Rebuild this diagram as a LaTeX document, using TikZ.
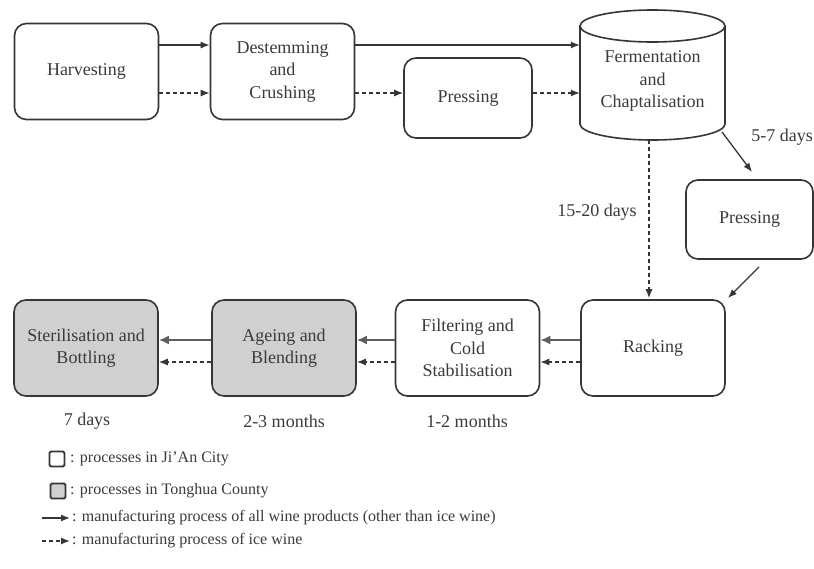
\documentclass[tikz,border=0pt]{standalone}
\usepackage{fontspec}
\setmainfont{Liberation Serif}
\usetikzlibrary{arrows.meta,calc}
\definecolor{linecol}{HTML}{353535}
\definecolor{textcol}{HTML}{3A3A3A}
\definecolor{boxgray}{HTML}{D0D0D0}
\begin{document}
\begin{tikzpicture}[x=1pt,y=-1pt,
  proc/.style={draw=linecol, line width=1.6pt, rounded corners=12pt, fill=white,
    align=center, text=textcol, font=\fontsize{18}{22.5}\selectfont, inner sep=0pt,
    minimum width=144pt, minimum height=96pt},
  county/.style={proc, fill=boxgray},
  flow/.style={-{Latex[length=9pt,width=7pt]}, line width=1.3pt, draw=linecol},
  ice/.style={flow, dash pattern=on 4pt off 3pt},
  bigflow/.style={-{Latex[length=10pt,width=9pt]}, line width=2.8pt, draw=linecol!80},
  lab/.style={text=textcol, font=\fontsize{18}{22}\selectfont, inner sep=0pt},
  legtext/.style={text=textcol, font=\fontsize{16}{19}\selectfont, inner sep=0pt, anchor=west},
  legbox/.style={draw=linecol, line width=1.8pt, rounded corners=1.5pt, minimum size=15pt, inner sep=0pt}
]
\useasboundingbox (0,0) rectangle (814,568);
\fill[white] (0,0) rectangle (814,568);

% top row
\node[proc] (harv) at (86.5,71.5) {Harvesting};
\node[proc] (dest) at (282.5,71.5) {Destemming\\and\\Crushing};
\node[proc, minimum width=128pt, minimum height=80pt] (pres1) at (468,98) {Pressing};

% fermentation cylinder
\node[inner sep=0pt, minimum width=145pt, minimum height=130pt] (ferm) at (652.5,75) {};
\draw[draw=linecol, line width=1.6pt, fill=white]
  (580,26) -- (580,124) arc (180:0:72.5 and 16) -- (725,26);
\draw[draw=linecol, line width=1.6pt, fill=white] (652.5,26) ellipse (72.5 and 16);
\node[align=center, text=textcol, font=\fontsize{18}{22.5}\selectfont, inner sep=0pt] (fermtxt)
  at (652.5,81) {Fermentation\\and\\Chaptalisation};

\node[proc, minimum width=127pt, minimum height=79pt] (pres2) at (749.5,219.5) {Pressing};

% bottom row
\node[proc] (rack) at (653,348) {Racking};
\node[proc] (filt) at (467.5,348) {Filtering and\\Cold\\Stabilisation};
\node[county] (age) at (284,348) {Ageing and\\Blending};
\node[county] (ster) at (86,348) {Sterilisation and\\Bottling};

% connectors
\coordinate (r1) at (0,45);
\coordinate (r2) at (0,93);
\draw[flow] (harv.east |- r1) -- (dest.west |- r1);
\draw[ice]  (harv.east |- r2) -- (dest.west |- r2);
\draw[flow] (dest.east |- r1) -- (ferm.west |- r1);
\draw[ice]  (dest.east |- r2) -- (pres1.west |- r2);
\draw[ice]  (pres1.east |- r2) -- (ferm.west |- r2);

\coordinate (fout) at (722,132);
\coordinate (p2in) at (752,172);
\draw[flow] (fout) -- (p2in);
\coordinate (p2out) at (759,267);
\coordinate (rin) at (728,298);
\draw[flow] (p2out) -- (rin);
\draw[ice] ($(ferm.south)+(-3.5,0)$) -- ($(rack.north)+(-4,-1)$);

\node[lab, anchor=east] (l57) at (813,137) {5-7 days};
\node[lab] (l1520) at (597,212) {15-20 days};

\coordinate (b1) at (0,340);
\coordinate (b2) at (0,362);
\draw[bigflow] (rack.west |- b1) -- (filt.east |- b1);
\draw[ice]     (rack.west |- b2) -- (filt.east |- b2);
\draw[bigflow] (filt.west |- b1) -- (age.east |- b1);
\draw[ice]     (filt.west |- b2) -- (age.east |- b2);
\draw[bigflow] (age.west |- b1) -- (ster.east |- b1);
\draw[ice]     (age.west |- b2) -- (ster.east |- b2);

\node[lab] (t7) at (87,421) {7 days};
\node[lab] (t23) at (284,421) {2-3 months};
\node[lab] (t12) at (467,421) {1-2 months};

% legend
\node[legbox, fill=white] (lw) at (57,459) {};
\node[legtext] (lwt) at (70,459) {: processes in Ji’An City};
\node[legbox, fill=boxgray] (lg) at (58,491) {};
\node[legtext] (lgt) at (70,491) {: processes in Tonghua County};
\coordinate (ls1) at (42,518);
\coordinate (ls2) at (70,518);
\draw[flow] (ls1) -- (ls2);
\node[legtext] (lst) at (72,518) {: manufacturing process of all wine products (other than ice wine)};
\coordinate (ld1) at (42,541);
\coordinate (ld2) at (70,541);
\draw[ice] (ld1) -- (ld2);
\node[legtext] (ldt) at (72,541) {: manufacturing process of ice wine};
\end{tikzpicture}
\end{document}
